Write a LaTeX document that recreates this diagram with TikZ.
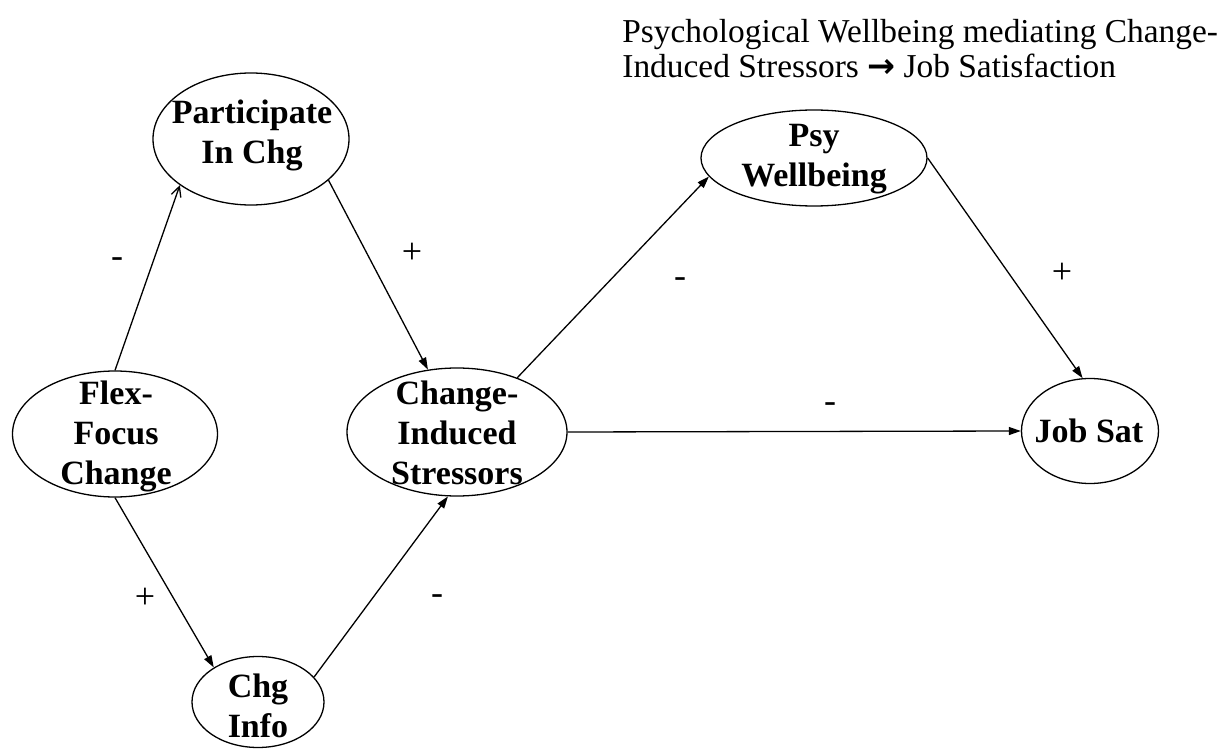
\documentclass[tikz,border=0pt]{standalone}
\usepackage{fontspec}
\setmainfont{Liberation Serif}
\newfontfamily\arrowfont{DejaVu Sans}
\usetikzlibrary{arrows.meta,shapes.geometric}

\begin{document}
\begin{tikzpicture}[x=0.5pt, y=-0.5pt, >={Triangle[length=6pt,width=4pt]},
    construct/.style={ellipse, draw, line width=0.65pt, inner sep=0pt},
    context/.style={align=center, inner sep=0pt, font=\fontsize{17}{20}\selectfont\bfseries},
    sign/.style={inner sep=0pt, font=\fontsize{18}{20}\selectfont},
    effect/.style={->, line width=0.65pt}]
    \useasboundingbox (0,0) rectangle (1228,749);
    \node [construct, minimum width=102.5pt, minimum height=63pt] (flex) at (115,434) {};
    \node [construct, minimum width=98pt, minimum height=66pt] (part) at (251,139) {};
    \node [construct, minimum width=66pt, minimum height=45.5pt] (info) at (258,702) {};
    \node [construct, minimum width=110pt, minimum height=64pt] (stress) at (457,432) {};
    \node [construct, minimum width=113pt, minimum height=48pt] (psy) at (814,158) {};
    \node [construct, minimum width=68.5pt, minimum height=52.5pt] (job) at (1090,431) {};
    \node [context] (flex-txt) at (116,436) {Flex-\\Focus\\Change};
    \node [context] (part-txt) at (252,135) {Participate\\In Chg};
    \node [context] (info-txt) at (258,706) {Chg\\Info};
    \node [context] (stress-txt) at (457,433) {Change-\\Induced\\Stressors};
    \node [context] (psy-txt) at (814,159) {Psy\\Wellbeing};
    \node [context] (job-txt) at (1089,431) {Job Sat};
    \draw [line width=0.65pt, -{Straight Barb[length=5pt,width=5pt]}] (flex.north) -- (part.213);
    \draw [effect] (part.332) -- (stress.115);
    \draw [effect] (flex.south) -- (info.142);
    \draw [effect] (info.24) -- (stress.262);
    \draw [effect] (stress.42) -- (psy.190);
    \draw [effect] (psy.east) -- (job.98);
    \draw [effect] (stress.east) -- (job.west);
    \node [sign] (s1) at (117,263) {-};
    \node [sign] (s2) at (412,253) {+};
    \node [sign] (s3) at (145,598) {+};
    \node [sign] (s4) at (437,600) {-};
    \node [sign] (s5) at (680,283) {-};
    \node [sign] (s6) at (1062,273) {+};
    \node [sign] (s7) at (830,408) {-};
    \node [anchor=west, align=left, inner sep=0pt, font=\fontsize{16.7}{17.5}\selectfont] (title) at (622,49)
        {Psychological Wellbeing mediating Change-\\Induced Stressors {\arrowfont\bfseries →} Job Satisfaction};
\end{tikzpicture}
\end{document}
